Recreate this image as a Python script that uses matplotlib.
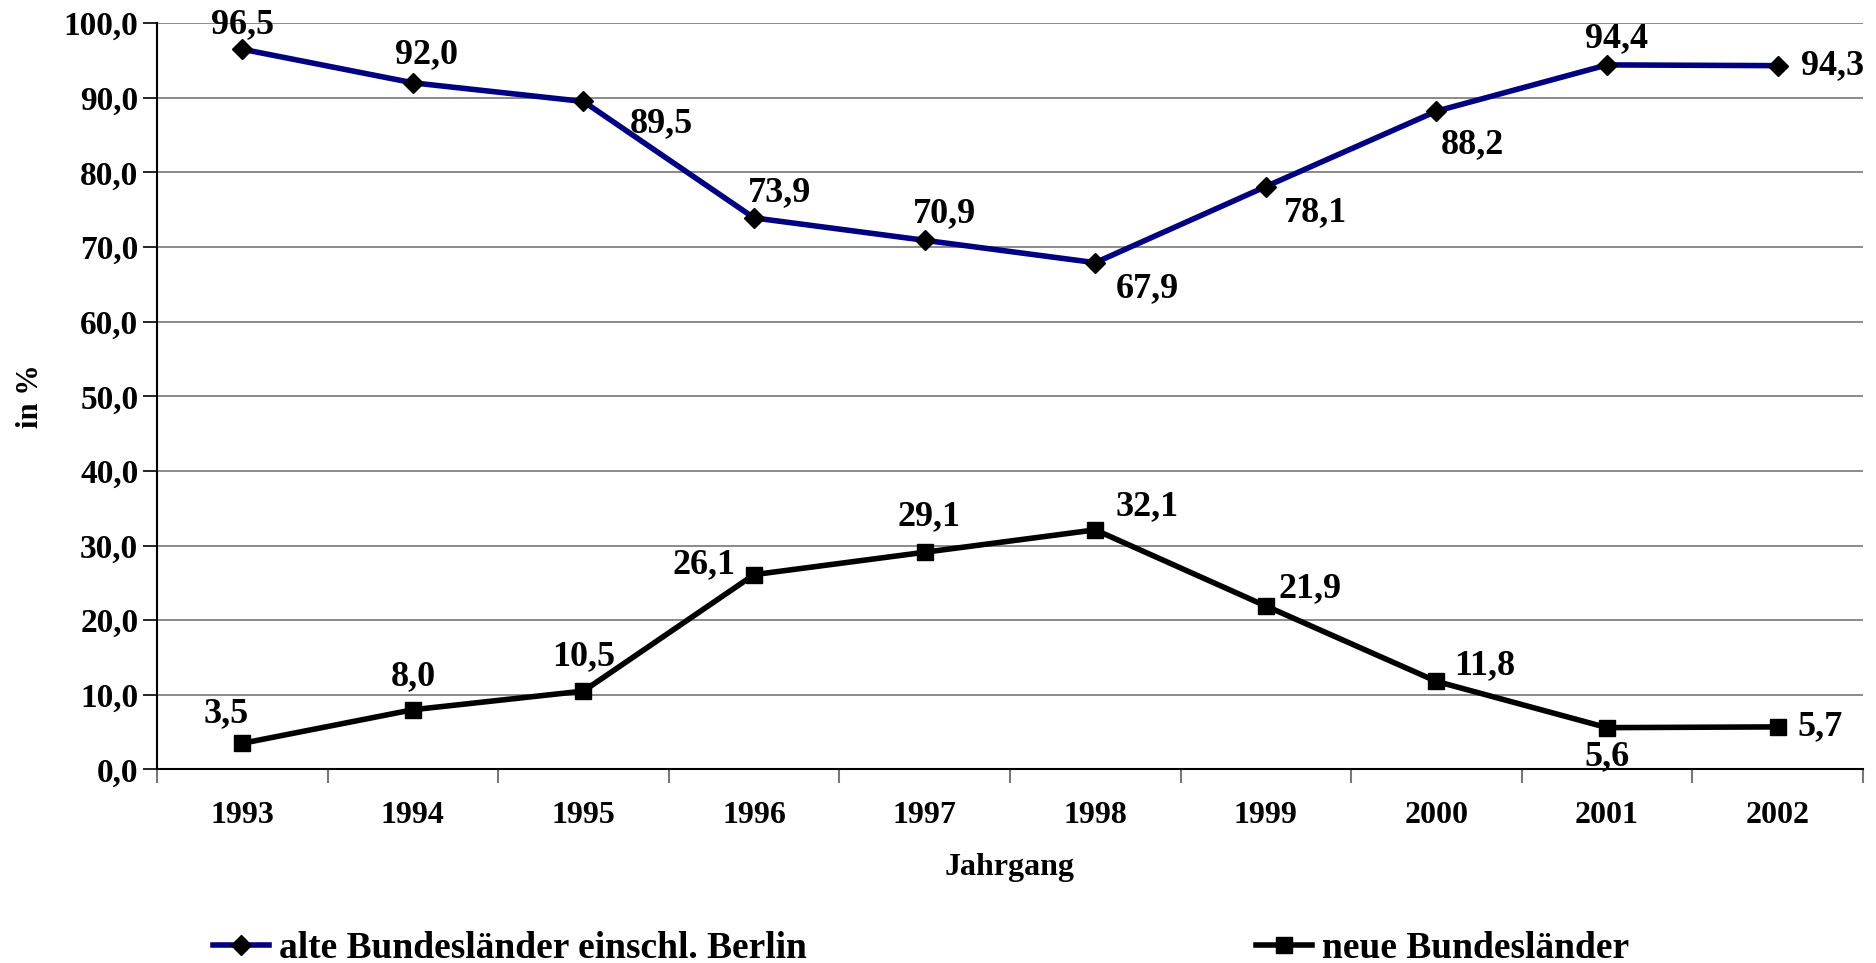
import matplotlib.pyplot as plt

plt.rcParams['font.family'] = ['Liberation Serif', 'DejaVu Serif']
plt.rcParams['font.weight'] = 'bold'

years = ["1993", "1994", "1995", "1996", "1997", "1998", "1999", "2000", "2001", "2002"]
alte = [96.5, 92.0, 89.5, 73.9, 70.9, 67.9, 78.1, 88.2, 94.4, 94.3]
neue = [3.5, 8.0, 10.5, 26.1, 29.1, 32.1, 21.9, 11.8, 5.6, 5.7]

# label offsets in pixels (dx, dy) relative to each point
alte_off = [(0, 25), (14, 28), (78, -22), (25, 25), (20, 27), (52, -26), (50, -26), (36, -33), (10, 26), (55, 0)]
neue_off = [(-16, 30), (0, 33), (0, 34), (-50, 10), (4, 36), (52, 23), (44, 17), (48, 16), (0, -29), (42, 0)]

fig, ax = plt.subplots(figsize=(18.76, 9.63), dpi=100)
fig.subplots_adjust(left=0.0837, right=0.993, top=0.976, bottom=0.201)

x = list(range(len(years)))
l1, = ax.plot(x, alte, color='#000080', lw=4, marker='D', ms=10, mfc='black', mec='black',
              label='alte Bundesländer einschl. Berlin', zorder=3)
l2, = ax.plot(x, neue, color='black', lw=4, marker='s', ms=12, mfc='black', mec='black',
              label='neue Bundesländer', zorder=3)

for xi, v, off in zip(x, alte, alte_off):
    ax.annotate(f"{v:.1f}".replace('.', ','), (xi, v), xytext=off, textcoords='offset pixels',
                ha='center', va='center', fontsize=26, fontweight='bold')
for xi, v, off in zip(x, neue, neue_off):
    ax.annotate(f"{v:.1f}".replace('.', ','), (xi, v), xytext=off, textcoords='offset pixels',
                ha='center', va='center', fontsize=26, fontweight='bold')

ax.set_xlim(-0.5, len(years) - 0.5)
ax.set_ylim(0, 100)
ax.set_yticks(range(0, 101, 10))
ax.set_yticklabels([f"{t:.1f}".replace('.', ',') for t in range(0, 101, 10)], fontsize=24)
ax.set_xticks(x)
ax.set_xticklabels(years, fontsize=23)
ax.set_xticks([i - 0.5 for i in range(len(years) + 1)], minor=True)
ax.tick_params(axis='x', which='major', length=0, pad=23)
ax.tick_params(axis='x', which='minor', length=10, width=1.5, color='#777777')
ax.tick_params(axis='y', length=10, width=1.2)

ax.grid(axis='y', color='#777777', lw=1.2)
ax.set_axisbelow(True)
for s in ['top', 'right']:
    ax.spines[s].set_visible(False)
ax.spines['left'].set_linewidth(1.5)
ax.spines['bottom'].set_linewidth(1.5)

ax.set_xlabel("Jahrgang", fontsize=23, fontweight='bold', labelpad=16)
ax.set_ylabel("in %", fontsize=22, fontweight='bold', labelpad=13)

leg_kw = dict(loc='center left', frameon=False, handlelength=1.5, handletextpad=0.25,
              borderaxespad=0, borderpad=0, prop={'weight': 'bold', 'size': 27})
fig.legend(handles=[l1], bbox_to_anchor=(0.1135, 0.015), **leg_kw)
fig.legend(handles=[l2], bbox_to_anchor=(0.6696, 0.015), **leg_kw)

fig.savefig("out.png", dpi=100)
